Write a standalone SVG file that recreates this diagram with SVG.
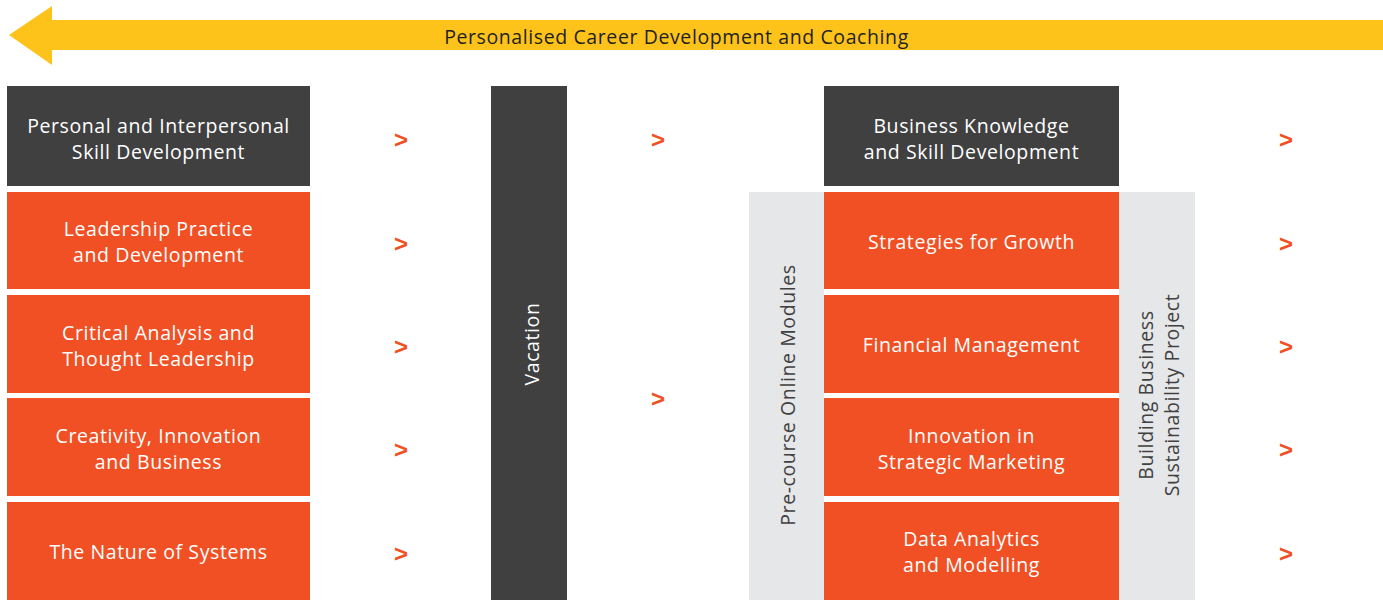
<svg xmlns="http://www.w3.org/2000/svg" width="1383" height="600" viewBox="0 0 1383 600">
<style>
text{font-family:"Open Sans","Liberation Sans",sans-serif;font-size:19.5px;letter-spacing:0.6px;text-anchor:middle}
.w{fill:#ffffff}
.g{fill:#404041}
.k{fill:#231f20}
.dark{fill:#404041}
.org{fill:#f05023}
.gray{fill:#e6e7e8}
.chev{fill:#f05023;font-family:"Liberation Sans",sans-serif;font-weight:bold;font-size:24px;letter-spacing:0}
</style>
<rect width="1383" height="600" fill="#ffffff"/>
<g id="banner">
<polygon points="9,35 52,6 52,20 1383,20 1383,50 52,50 52,65" fill="#fec31a"/>
<text class="k" x="676.5" y="44">Personalised Career Development and Coaching</text>
</g>
<g id="left-header"><rect class="dark" x="7" y="86" width="303" height="100"/><text class="w" x="158.5" y="133">Personal and Interpersonal</text><text class="w" x="158.5" y="159">Skill Development</text></g>
<g id="leadership"><rect class="org" x="7" y="192" width="303" height="97"/><text class="w" x="158.5" y="236">Leadership Practice</text><text class="w" x="158.5" y="262">and Development</text></g>
<g id="critical"><rect class="org" x="7" y="295" width="303" height="98"/><text class="w" x="158.5" y="340">Critical Analysis and</text><text class="w" x="158.5" y="366">Thought Leadership</text></g>
<g id="creativity"><rect class="org" x="7" y="398" width="303" height="98"/><text class="w" x="158.5" y="443">Creativity, Innovation</text><text class="w" x="158.5" y="469">and Business</text></g>
<g id="systems"><rect class="org" x="7" y="502" width="303" height="98"/><text class="w" x="158.5" y="559">The Nature of Systems</text></g>
<g id="vacation"><rect class="dark" x="491" y="86" width="76" height="514"/><text class="w" transform="translate(539,344) rotate(-90)">Vacation</text></g>
<g id="precourse"><rect class="gray" x="749" y="192" width="75" height="408"/><text class="g" transform="translate(795,395) rotate(-90)">Pre-course Online Modules</text></g>
<g id="project"><rect class="gray" x="1119" y="192" width="76" height="408"/><text class="g" transform="translate(1153,395) rotate(-90)">Building Business</text><text class="g" transform="translate(1179,395) rotate(-90)">Sustainability Project</text></g>
<g id="right-header"><rect class="dark" x="824" y="86" width="295" height="100"/><text class="w" x="971.5" y="133">Business Knowledge</text><text class="w" x="971.5" y="159">and Skill Development</text></g>
<g id="strategies"><rect class="org" x="824" y="192" width="295" height="97"/><text class="w" x="971.5" y="249">Strategies for Growth</text></g>
<g id="financial"><rect class="org" x="824" y="295" width="295" height="98"/><text class="w" x="971.5" y="352">Financial Management</text></g>
<g id="marketing"><rect class="org" x="824" y="398" width="295" height="98"/><text class="w" x="971.5" y="443">Innovation in</text><text class="w" x="971.5" y="469">Strategic Marketing</text></g>
<g id="analytics"><rect class="org" x="824" y="502" width="295" height="98"/><text class="w" x="971.5" y="546">Data Analytics</text><text class="w" x="971.5" y="572">and Modelling</text></g>
<g id="connectors">
<text class="chev" x="401" y="148">&gt;</text>
<text class="chev" x="401" y="252">&gt;</text>
<text class="chev" x="401" y="355">&gt;</text>
<text class="chev" x="401" y="458">&gt;</text>
<text class="chev" x="401" y="562">&gt;</text>
<text class="chev" x="658" y="148">&gt;</text>
<text class="chev" x="658" y="407">&gt;</text>
<text class="chev" x="1286" y="148">&gt;</text>
<text class="chev" x="1286" y="252">&gt;</text>
<text class="chev" x="1286" y="355">&gt;</text>
<text class="chev" x="1286" y="458">&gt;</text>
<text class="chev" x="1286" y="562">&gt;</text>
</g>
</svg>
